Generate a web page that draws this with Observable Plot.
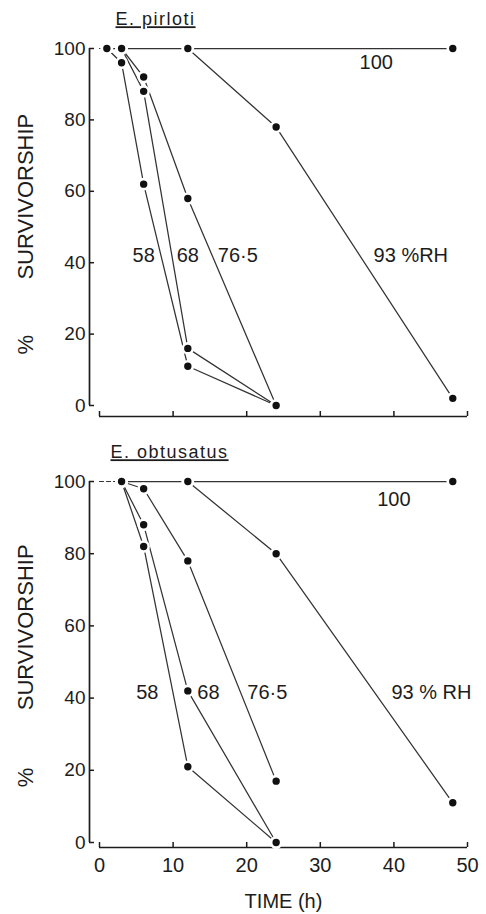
<!DOCTYPE html>
<html>
<head>
<meta charset="utf-8">
<script src="https://cdn.jsdelivr.net/npm/d3@7"></script>
<script src="https://cdn.jsdelivr.net/npm/@observablehq/plot@0.6"></script>
<style>
  html, body { margin: 0; padding: 0; background: #fff; }
  #chart { width: 486px; height: 914px; }
  #chart svg { display: block; }
</style>
</head>
<body>
<div id="chart"></div>
<script>
// ---- axis ticks ----
const xTicks = [0, 10, 20, 30, 40, 50];
const yTicks = [0, 20, 40, 60, 80, 100];
const rhNames = ["100", "93", "76.5", "68", "58"];

// ---- E. pirloti (top panel) ----
const pirTime100 = [1, 3, 12, 48],    pirSurv100 = [100, 100, 100, 100];
const pirTime93  = [12, 24, 48],      pirSurv93  = [100, 78, 2];
const pirTime765 = [3, 6, 12, 24],    pirSurv765 = [100, 92, 58, 0];
const pirTime68  = [3, 6, 12, 24],    pirSurv68  = [100, 88, 16, 0];
const pirTime58  = [1, 3, 6, 12, 24], pirSurv58  = [100, 96, 62, 11, 0];
const pirLabels    = ["100", "93 %RH", "76·5", "68", "58"];
const pirLabelTime = [37.6, 42.3, 18.8, 12, 6];
const pirLabelSurv = [96, 42, 42, 42, 42];

// ---- E. obtusatus (bottom panel) ----
const obtTime100 = [3, 12, 48],     obtSurv100 = [100, 100, 100];
const obtTime93  = [12, 24, 48],    obtSurv93  = [100, 80, 11];
const obtTime765 = [3, 6, 12, 24],  obtSurv765 = [100, 98, 78, 17];
const obtTime68  = [3, 6, 12, 24],  obtSurv68  = [100, 88, 42, 0];
const obtTime58  = [3, 6, 12, 24],  obtSurv58  = [100, 82, 21, 0];
const obtLabels    = ["100", "93 % RH", "76·5", "68", "58"];
const obtLabelTime = [40, 45.1, 22.8, 14.8, 6.5];
const obtLabelSurv = [95, 41.5, 41.5, 41.5, 41.5];

const FONT = '"Liberation Sans", Arial, Helvetica, sans-serif';
const INK = "#1c1c1c";

function toRows(times, survs) {
  return rhNames.flatMap((rh, k) => times[k].map((t, i) => ({rh, t, s: survs[k][i]})));
}
function toLabels(texts, times, survs) {
  return texts.map((text, i) => ({text, t: times[i], s: survs[i]}));
}

function panel(o) {
  const rows = toRows(o.times, o.survs);
  const lead = [{t: xTicks[0], s: o.survs[0][0]}, {t: o.times[0][0], s: o.survs[0][0]}];
  const labels = toLabels(o.labels, o.labelTimes, o.labelSurvs);
  const svg = Plot.plot({
    width: 486,
    height: o.height,
    marginLeft: 99, marginRight: 19,
    marginTop: o.marginTop, marginBottom: o.marginBottom,
    style: {fontFamily: FONT, fontSize: "19px", background: "white", color: INK, overflow: "visible"},
    x: {domain: [xTicks[0], xTicks[xTicks.length - 1]], axis: null},
    y: {domain: [yTicks[0], yTicks[yTicks.length - 1]], axis: null},
    marks: [
      // offset y axis
      Plot.ruleX([xTicks[0]], {y1: yTicks[0], y2: yTicks[yTicks.length - 1], dx: -10, stroke: INK, strokeWidth: 1.7}),
      Plot.axisY({ticks: yTicks, tickSize: -5, tickFormat: () => "", dx: -10, label: null, strokeWidth: 1.5}),
      Plot.axisY({ticks: yTicks, tickSize: 0, tickPadding: 4, dx: -10, label: null, fontSize: 19}),
      // offset x axis
      Plot.ruleY([yTicks[0]], {x1: xTicks[0], x2: xTicks[xTicks.length - 1], dy: o.axisDy, stroke: INK, strokeWidth: 1.7}),
      Plot.axisX({ticks: xTicks, tickSize: -5, tickFormat: () => "", dy: o.axisDy, label: null, strokeWidth: 1.5}),
      o.xLabels ? Plot.axisX({ticks: xTicks, tickSize: 0, tickPadding: 10, dy: o.axisDy, label: null, fontSize: 20}) : null,
      // data
      Plot.line(lead, {x: "t", y: "s", stroke: "#333", strokeWidth: 1.2, strokeDasharray: "4,3"}),
      Plot.line(rows, {x: "t", y: "s", z: "rh", stroke: "#333", strokeWidth: 1.25}),
      Plot.dot(rows, {x: "t", y: "s", r: 5, fill: "#111", stroke: "white", strokeWidth: 2.6}),
      Plot.text(labels, {x: "t", y: "s", text: "text", fontSize: 20, fill: INK}),
      // axis titles
      Plot.text(["SURVIVORSHIP"], {frameAnchor: "left", y: o.survY, dx: -74, rotate: -90, textAnchor: "middle", lineAnchor: "middle", fontSize: 22, fill: INK}),
      Plot.text(["%"], {frameAnchor: "left", y: o.pctY, dx: -74, rotate: -90, textAnchor: "middle", lineAnchor: "middle", fontSize: 22, fill: INK}),
      o.xLabels ? Plot.text(["TIME (h)"], {frameAnchor: "bottom", dy: o.timeDy, textAnchor: "middle", lineAnchor: "middle", fontSize: 20, fill: INK}) : null,
      Plot.text([o.title], {frameAnchor: "top-left", textAnchor: "start", lineAnchor: "middle", dx: o.titleDx, dy: o.titleDy, fontSize: 18, fill: INK})
    ]
  });
  svg.querySelectorAll("text").forEach((t) => {
    if (t.textContent === o.title) {
      t.style.textDecoration = "underline";
      t.style.letterSpacing = "1.5px";
    }
  });
  return svg;
}

const chart = document.getElementById("chart");
chart.appendChild(panel({
  title: "E. pirloti",
  times: [pirTime100, pirTime93, pirTime765, pirTime68, pirTime58],
  survs: [pirSurv100, pirSurv93, pirSurv765, pirSurv68, pirSurv58],
  labels: pirLabels, labelTimes: pirLabelTime, labelSurvs: pirLabelSurv,
  height: 440, marginTop: 48, marginBottom: 35, axisDy: 11,
  xLabels: false, titleDx: 16, titleDy: -29, survY: 58.5, pctY: 17
}));
chart.appendChild(panel({
  title: "E. obtusatus",
  times: [obtTime100, obtTime93, obtTime765, obtTime68, obtTime58],
  survs: [obtSurv100, obtSurv93, obtSurv765, obtSurv68, obtSurv58],
  labels: obtLabels, labelTimes: obtLabelTime, labelSurvs: obtLabelSurv,
  height: 474, marginTop: 41, marginBottom: 72, axisDy: 5,
  xLabels: true, timeDy: 59, titleDx: 11, titleDy: -29, survY: 59.6, pctY: 18
}));
</script>
</body>
</html>
